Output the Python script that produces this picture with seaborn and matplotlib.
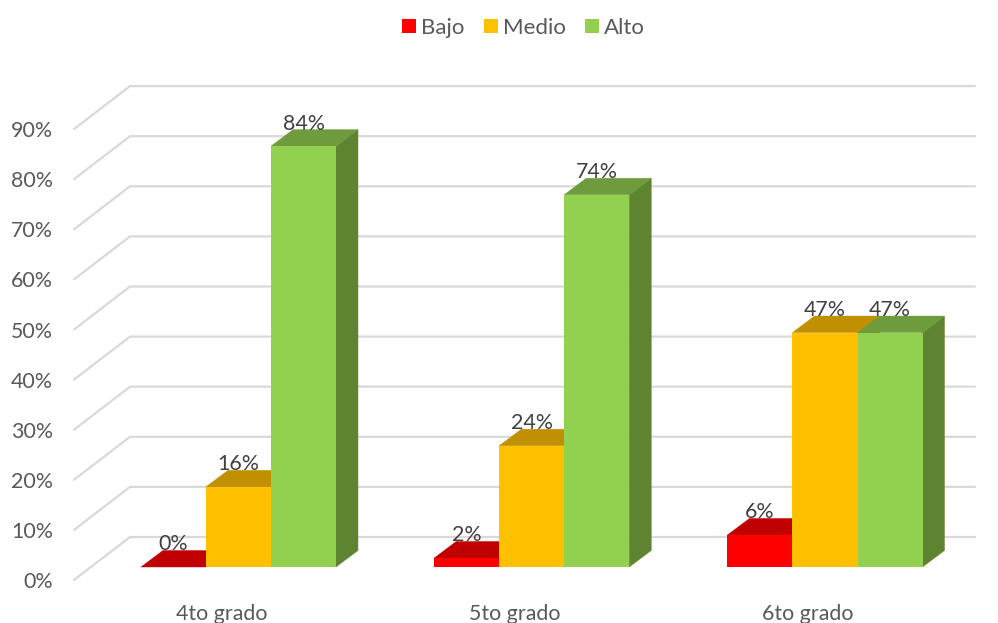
import matplotlib
matplotlib.use("Agg")
import matplotlib.pyplot as plt
import numpy as np
import pandas as pd
import seaborn as sns

grades = ["4to grado", "5to grado", "6to grado"]
levels = ["Bajo", "Medio", "Alto"]
bajo = [0, 1.8, 6.4]
medio = [16, 24.2, 46.8]
alto = [84, 74.3, 46.8]
y_ticks = [0, 10, 20, 30, 40, 50, 60, 70, 80, 90]
front_colors = ["#FF0000", "#FFC000", "#92D050"]
top_colors = ["#C00000", "#C09000", "#6E9C3C"]
side_colors = ["#A00000", "#A07800", "#5E8432"]

W, H = 998, 623
BASE_PX = 567.0          # pixel row of the bars' front base
AXES_BOTTOM_PX = 590.0
PX_PER_UNIT = 5.01       # pixels for one percentage point
GROUP_PX = 293.25
LEFT_PX = 238.5 - GROUP_PX / 2
FS = 15.4

sns.set_theme(style="white")
plt.rcParams["font.family"] = ["Lato", "DejaVu Sans"]

df = pd.DataFrame({
    "grade": grades * 3,
    "level": np.repeat(levels, 3),
    "value": bajo + medio + alto,
})

fig = plt.figure(figsize=(W / 100, H / 100), dpi=100, facecolor="white")
ax = fig.add_axes([LEFT_PX / W, (H - AXES_BOTTOM_PX) / H, 3 * GROUP_PX / W, AXES_BOTTOM_PX / H])
sns.barplot(data=df, x="grade", y="value", hue="level", order=grades, hue_order=levels,
            palette=front_colors, saturation=1, width=0.665, gap=0, dodge=True,
            errorbar=None, ax=ax, zorder=5, linewidth=0)
ax.patch.set_alpha(0)

# pseudo-3D offsets expressed in data units
dx_bar = 22 / GROUP_PX
dy_bar = 16.5 / PX_PER_UNIT
dy_front = (BASE_PX - 580) / PX_PER_UNIT
dy_back = (BASE_PX - 537) / PX_PER_UNIT
x_front = (74 - LEFT_PX) / GROUP_PX - 0.5
x_back = (130 - LEFT_PX) / GROUP_PX - 0.5
x_right = (975 - LEFT_PX) / GROUP_PX - 0.5
x_label_shift = -17 / GROUP_PX

for v in y_ticks:
    ax.plot([x_front, x_back, x_right], [v + dy_front, v + dy_back, v + dy_back],
            color="#D9D9D9", lw=1.6, clip_on=False, zorder=1, solid_joinstyle="miter")

for container, top_c, side_c in zip(ax.containers, top_colors, side_colors):
    for bar in container:
        x0, w, h = bar.get_x(), bar.get_width(), bar.get_height()
        x1 = x0 + w
        ax.fill([x1, x1 + dx_bar, x1 + dx_bar, x1], [0, dy_bar, h + dy_bar, h],
                facecolor=side_c, edgecolor=side_c, lw=0.3, zorder=3, clip_on=False)
        ax.fill([x0, x1, x1 + dx_bar, x0 + dx_bar], [h, h, h + dy_bar, h + dy_bar],
                facecolor=top_c, edgecolor=top_c, lw=0.3, zorder=4, clip_on=False)
        ax.text(x0 + w / 2, h + dy_bar, f"{round(h):d}%", ha="center", va="baseline",
                fontsize=FS, color="#404040", zorder=8, clip_on=False)

ax.set_yticks([v + dy_front for v in y_ticks], [f"{v}%" for v in y_ticks])
ax.set_xticks([i + x_label_shift for i in range(len(grades))], grades)
ax.set_xlim(-0.5, 2.5)
ax.set_ylim((BASE_PX - AXES_BOTTOM_PX) / PX_PER_UNIT, BASE_PX / PX_PER_UNIT)
ax.set_xlabel("")
ax.set_ylabel("")
ax.tick_params(axis="y", length=0, pad=28, labelsize=FS, labelcolor="#595959")
ax.tick_params(axis="x", length=0, pad=10, labelsize=FS, labelcolor="#595959")
sns.despine(ax=ax, left=True, bottom=True)

handles, labels = ax.get_legend_handles_labels()
ax.get_legend().remove()
fig.legend(handles, labels, ncol=3, frameon=False, loc="center",
           bbox_to_anchor=(523.5 / W, 1 - 28 / H), fontsize=16, labelcolor="#595959",
           handlelength=0.63, handleheight=0.63, handletextpad=0.25, columnspacing=0.85,
           borderpad=0, borderaxespad=0)

fig.savefig("out.png", dpi=100, facecolor="white")
